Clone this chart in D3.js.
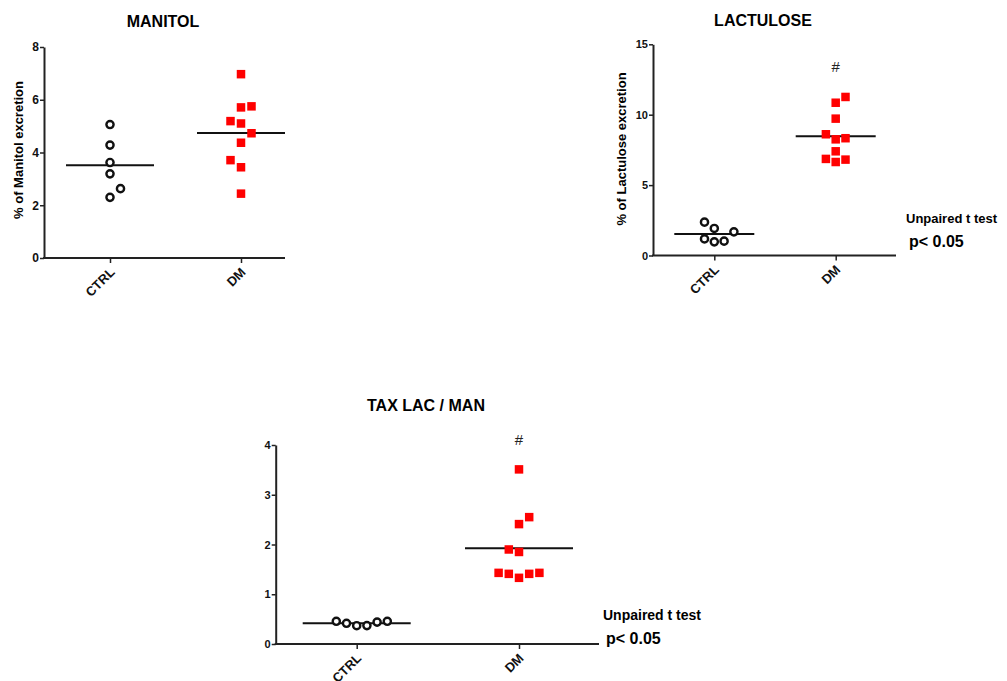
<!DOCTYPE html>
<html>
<head>
<meta charset="utf-8">
<script src="https://cdn.jsdelivr.net/npm/d3@7"></script>
<style>
  body { margin: 0; background: #fff; }
  text { font-family: Arial, "Liberation Sans", sans-serif; }
</style>
</head>
<body>
<div id="chart"></div>
<script>
// groups on the x axis
var groups = ["CTRL", "DM"];

// MANITOL (% excretion) and beeswarm column slot of each point
var manCtrl = [5.06, 4.28, 3.62, 3.19, 2.30, 2.63];
var manCtrlSlot = [0, 0, 0, 0, 0, 1];
var manDm = [6.97, 5.71, 5.75, 5.10, 5.19, 4.73, 4.37, 3.71, 3.44, 2.44];
var manDmSlot = [0, 0, 1, 0, -1, 1, 0, -1, 0, 0];
var manTicks = [0, 2, 4, 6, 8];

// LACTULOSE (% excretion)
var lacCtrl = [2.37, 1.92, 1.68, 1.18, 0.97, 1.02];
var lacCtrlSlot = [-1, 0, 2, -1, 0, 1];
var lacDm = [10.85, 9.72, 8.25, 7.40, 6.64, 11.26, 8.33, 6.81, 8.61, 6.86];
var lacDmSlot = [0, 0, 0, 0, 0, 1, 1, 1, -1, -1];
var lacTicks = [0, 5, 10, 15];

// TAX LAC / MAN ratio
var ratCtrl = [0.456, 0.416, 0.368, 0.37, 0.44, 0.456];
var ratCtrlSlot = [-2, -1, 0, 1, 2, 3];
var ratDm = [3.51, 2.41, 1.85, 1.33, 2.55, 1.41, 1.90, 1.41, 1.43, 1.43];
var ratDmSlot = [0, 0, 0, 0, 1, 1, -1, -1, -2, 2];
var ratTicks = [0, 1, 2, 3, 4];

var width = 1007, height = 681;

var svg = d3.select("#chart")
  .append("svg")
    .attr("width", width)
    .attr("height", height);

function drawPanel(p) {
  var y = d3.scaleLinear().domain([0, p.max]).range([p.y0, p.yTop]);
  var x = d3.scalePoint().domain(groups).range([p.ctrlX, p.dmX]);
  var g = svg.append("g");

  // title
  g.append("text")
    .attr("x", p.titleX)
    .attr("y", p.titleY)
    .attr("text-anchor", "middle")
    .attr("font-weight", "bold")
    .style("font-size", "16px")
    .text(p.title);

  // y axis
  var ya = g.append("g")
    .attr("transform", "translate(" + p.axisX + ",0)")
    .call(d3.axisLeft(y).tickValues(p.ticks).tickFormat(d3.format("d"))
      .tickSize(4).tickSizeOuter(0));
  ya.select(".domain").attr("stroke", "#222").attr("stroke-width", 2);
  ya.selectAll(".tick line").attr("stroke", "#222").attr("stroke-width", 1.5);
  ya.selectAll(".tick text")
    .attr("fill", "#111")
    .attr("font-weight", "bold")
    .attr("x", -5)
    .style("font-size", p.tickSize + "px")
    .style("font-family", "Arial, 'Liberation Sans', sans-serif");

  // x axis line spans from y axis to xEnd
  g.append("line")
    .attr("x1", p.axisX - 1)
    .attr("x2", p.xEnd)
    .attr("y1", p.y0)
    .attr("y2", p.y0)
    .attr("stroke", "#222")
    .attr("stroke-width", 2);

  var xa = g.append("g")
    .attr("transform", "translate(0," + p.y0 + ")")
    .call(d3.axisBottom(x).tickSize(5));
  xa.select(".domain").remove();
  xa.selectAll(".tick line").attr("stroke", "#222").attr("stroke-width", 1.5);
  xa.selectAll(".tick text")
    .attr("fill", "#111")
    .attr("font-weight", "bold")
    .style("font-size", "13px")
    .style("font-family", "Arial, 'Liberation Sans', sans-serif")
    .attr("text-anchor", "end")
    .attr("dy", null)
    .attr("y", null)
    .attr("transform", "translate(5,15) rotate(-45)");

  // y label
  if (p.ylabel) {
    g.append("text")
      .attr("transform", "translate(" + p.ylabelX + "," + p.ylabelY + ") rotate(-90)")
      .attr("text-anchor", "middle")
      .attr("font-weight", "bold")
      .style("font-size", "13px")
      .text(p.ylabel);
  }

  // mean lines
  [[p.ctrl, "CTRL"], [p.dm, "DM"]].forEach(function(s) {
    var m = d3.mean(s[0]);
    g.append("line")
      .attr("x1", x(s[1]) - p.halfLine)
      .attr("x2", x(s[1]) + p.halfLine)
      .attr("y1", y(m))
      .attr("y2", y(m))
      .attr("stroke", "#111")
      .attr("stroke-width", 2);
  });

  // CTRL open circles
  g.selectAll(".ctrl")
    .data(p.ctrl)
    .enter().append("circle")
      .attr("cx", function(d, i) { return x("CTRL") + p.ctrlSlot[i] * p.gap; })
      .attr("cy", function(d) { return y(d); })
      .attr("r", 3.6)
      .attr("fill", "#fff")
      .attr("stroke", "#111")
      .attr("stroke-width", 2.4);

  // DM red squares
  var s = 8.5;
  g.selectAll(".dm")
    .data(p.dm)
    .enter().append("rect")
      .attr("x", function(d, i) { return x("DM") + p.dmSlot[i] * p.gap - s / 2; })
      .attr("y", function(d) { return y(d) - s / 2; })
      .attr("width", s)
      .attr("height", s)
      .attr("fill", "#f00");

  if (p.hash) {
    g.append("text")
      .attr("x", x("DM"))
      .attr("y", p.hashY)
      .attr("text-anchor", "middle")
      .style("font-size", "15px")
      .attr("fill", "#222")
      .text("#");
  }

  if (p.test) {
    g.append("text")
      .attr("x", p.testX)
      .attr("y", p.testY)
      .attr("font-weight", "bold")
      .style("font-size", p.testSize + "px")
      .text("Unpaired t test");
    g.append("text")
      .attr("x", p.testX + 3)
      .attr("y", p.testY + 24)
      .attr("font-weight", "bold")
      .style("font-size", "16px")
      .text("p< 0.05");
  }
}

drawPanel({
  title: "MANITOL", titleX: 163, titleY: 27,
  ctrl: manCtrl, ctrlSlot: manCtrlSlot, dm: manDm, dmSlot: manDmSlot,
  ticks: manTicks, max: 8, tickSize: 12,
  axisX: 44, yTop: 47, y0: 258, xEnd: 285, ctrlX: 110, dmX: 241,
  gap: 10.5, halfLine: 44,
  ylabel: "% of Manitol excretion", ylabelX: 23, ylabelY: 150
});

drawPanel({
  title: "LACTULOSE", titleX: 763, titleY: 26,
  ctrl: lacCtrl, ctrlSlot: lacCtrlSlot, dm: lacDm, dmSlot: lacDmSlot,
  ticks: lacTicks, max: 15, tickSize: 11,
  axisX: 653, yTop: 44.3, y0: 255.5, xEnd: 896, ctrlX: 714.3, dmX: 835.7,
  gap: 9.8, halfLine: 40,
  ylabel: "% of Lactulose excretion", ylabelX: 626, ylabelY: 149,
  hash: true, hashY: 72,
  test: true, testX: 906, testY: 223, testSize: 13
});

drawPanel({
  title: "TAX LAC / MAN", titleX: 426, titleY: 411,
  ctrl: ratCtrl, ctrlSlot: ratCtrlSlot, dm: ratDm, dmSlot: ratDmSlot,
  ticks: ratTicks, max: 4, tickSize: 11,
  axisX: 275.7, yTop: 445, y0: 644, xEnd: 599, ctrlX: 356.7, dmX: 519,
  gap: 10.2, halfLine: 54,
  hash: true, hashY: 445,
  test: true, testX: 603, testY: 620, testSize: 14
});
</script>
</body>
</html>
